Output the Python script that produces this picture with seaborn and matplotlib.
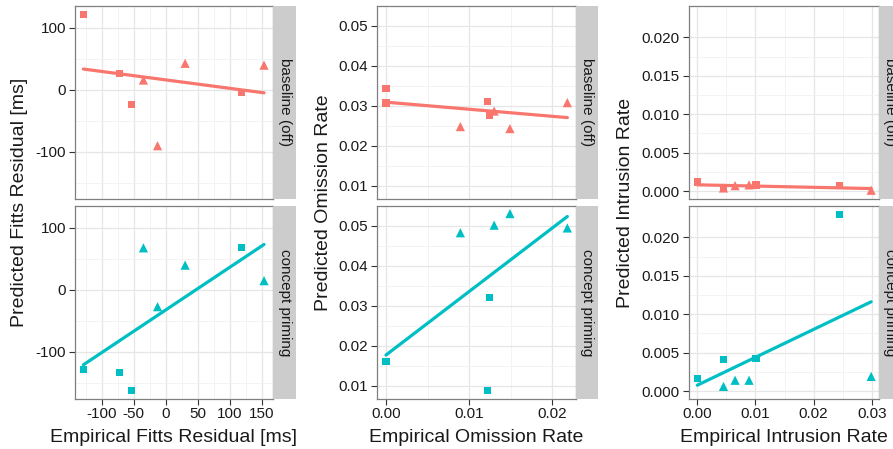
import matplotlib
matplotlib.use("Agg")
import matplotlib.pyplot as plt
import seaborn as sns
import pandas as pd
from matplotlib.ticker import FixedLocator

# ---------------- data ----------------
conditions = ["baseline (off)", "concept priming"]
cond_colors = ["#F8766D", "#00BFC4"]

fitts_x = [-128.7, -72.5, -53.7, -35.0, -13.0, 30.0, 118.0, 153.0]
fitts_shape = ["square", "square", "square", "triangle", "triangle", "triangle", "square", "triangle"]
fitts_base = [122, 26, -23, 16, -90, 43, -4, 40]
fitts_prime = [-128, -133, -162, 68, -27, 40, 69, 15]

om_x = [0.0, 0.0, 0.00894, 0.0122, 0.0124, 0.0130, 0.0149, 0.0218]
om_shape = ["square", "square", "triangle", "square", "square", "triangle", "triangle", "triangle"]
om_base = [0.0344, 0.0307, 0.0248, 0.0312, 0.0277, 0.0287, 0.0243, 0.0308]
om_prime = [0.0160, 0.0160, 0.0483, 0.0088, 0.0320, 0.0502, 0.0531, 0.0495]

in_x = [0.0, 0.00448, 0.0045, 0.0065, 0.0089, 0.0101, 0.0244, 0.0299]
in_shape = ["square", "square", "triangle", "triangle", "triangle", "square", "square", "triangle"]
in_base = [0.00117, 0.00035, 0.0004, 0.0007, 0.0008, 0.00078, 0.0007, 0.0001]
in_prime = [0.0016, 0.00413, 0.0006, 0.0014, 0.0014, 0.00425, 0.0230, 0.0019]

x_titles = ["Empirical Fitts Residual [ms]", "Empirical Omission Rate", "Empirical Intrusion Rate"]
y_titles = ["Predicted Fitts Residual [ms]", "Predicted Omission Rate", "Predicted Intrusion Rate"]

fitts_xticks = [-100, -50, 0, 50, 100, 150]
fitts_xlabels = ["-100", "-50", "0", "50", "100", "150"]
fitts_yticks = [-100, 0, 100]
fitts_ylabels = ["-100", "0", "100"]
om_xticks = [0.0, 0.01, 0.02]
om_xlabels = ["0.00", "0.01", "0.02"]
om_yticks = [0.01, 0.02, 0.03, 0.04, 0.05]
om_ylabels = ["0.01", "0.02", "0.03", "0.04", "0.05"]
in_xticks = [0.0, 0.01, 0.02, 0.03]
in_xlabels = ["0.00", "0.01", "0.02", "0.03"]
in_yticks = [0.0, 0.005, 0.010, 0.015, 0.020]
in_ylabels = ["0.000", "0.005", "0.010", "0.015", "0.020"]

# ---------------- style ----------------
sns.set_style("white")
plt.rcParams["font.family"] = ["Liberation Sans", "DejaVu Sans"]
plt.rcParams["axes.unicode_minus"] = False

W, H = 893, 449
fig = plt.figure(figsize=(W / 100, H / 100), dpi=100)


def box(l, t, r, b):
    return [l / W, 1 - b / H, (r - l) / W, (b - t) / H]


cols = [
    dict(x=fitts_x, shape=fitts_shape, ys=[fitts_base, fitts_prime],
         xt=fitts_xticks, xl=fitts_xlabels, yt=fitts_yticks, yl=fitts_ylabels,
         xminor=[-125, -75, -25, 25, 75, 125], yminor=[-150, -50, 50],
         xlim=(-141.7, 167.0), ylim=(-176.0, 135.5),
         left=75, right=273, strip_r=296, ylab_x=20),
    dict(x=om_x, shape=om_shape, ys=[om_base, om_prime],
         xt=om_xticks, xl=om_xlabels, yt=om_yticks, yl=om_ylabels,
         xminor=[0.005, 0.015], yminor=[0.015, 0.025, 0.035, 0.045],
         xlim=(-0.00108, 0.02284), ylim=(0.00667, 0.0550),
         left=377, right=576, strip_r=598, ylab_x=323),
    dict(x=in_x, shape=in_shape, ys=[in_base, in_prime],
         xt=in_xticks, xl=in_xlabels, yt=in_yticks, yl=in_ylabels,
         xminor=[0.005, 0.015, 0.025], yminor=[0.0025, 0.0075, 0.0125, 0.0175],
         xlim=(-0.00143, 0.03125), ylim=(-0.00104, 0.02408),
         left=689, right=879, strip_r=901, ylab_x=626),
]
rows = [(6, 199), (206, 399)]

for ci, c in enumerate(cols):
    for ri, (top, bot) in enumerate(rows):
        ax = fig.add_axes(box(c["left"], top, c["right"], bot))
        df = pd.DataFrame({"empirical": c["x"], "predicted": c["ys"][ri], "shape": c["shape"]})
        color = cond_colors[ri]
        sns.scatterplot(data=df, x="empirical", y="predicted", style="shape", size="shape",
                        markers={"square": "s", "triangle": "^"},
                        sizes={"square": 26, "triangle": 44},
                        color=color, linewidth=0, legend=False, ax=ax, zorder=3)
        sns.regplot(data=df, x="empirical", y="predicted", scatter=False, ci=None,
                    color=color, truncate=True, line_kws={"linewidth": 2.3, "zorder": 2},
                    ax=ax)
        ax.set_xlim(*c["xlim"])
        ax.set_ylim(*c["ylim"])
        ax.set_xlabel("")
        ax.set_ylabel("")
        ax.xaxis.set_major_locator(FixedLocator(c["xt"]))
        ax.yaxis.set_major_locator(FixedLocator(c["yt"]))
        ax.xaxis.set_minor_locator(FixedLocator(c["xminor"]))
        ax.yaxis.set_minor_locator(FixedLocator(c["yminor"]))
        ax.set_yticklabels(c["yl"])
        ax.grid(True, which="major", color="#E6E6E6", linewidth=0.9, zorder=0)
        ax.grid(True, which="minor", color="#F3F3F3", linewidth=0.7, zorder=0)
        ax.set_axisbelow(True)
        ax.tick_params(axis="y", which="major", left=True, length=4, width=0.8,
                       color="#333333", labelsize=11, labelcolor="#1A1A1A", pad=2.5)
        ax.tick_params(which="minor", length=0)
        if ri == 1:
            ax.set_xticklabels(c["xl"])
            ax.tick_params(axis="x", which="major", bottom=True, length=4, width=0.8,
                           color="#333333", labelsize=11, labelcolor="#1A1A1A", pad=2)
        else:
            ax.tick_params(axis="x", which="major", bottom=False, labelbottom=False)
        for sp in ax.spines.values():
            sp.set_color("#7F7F7F")
            sp.set_linewidth(0.9)
            sp.set_visible(True)
        # strip
        sax = fig.add_axes(box(c["right"], top, c["strip_r"], bot))
        sax.set_facecolor("#CCCCCC")
        sax.set_xticks([])
        sax.set_yticks([])
        for sp in sax.spines.values():
            sp.set_visible(False)
        sax.text(0.5, 0.5, conditions[ri], rotation=-90, ha="center", va="center",
                 fontsize=11, color="#1A1A1A", transform=sax.transAxes)
    # axis titles
    fig.text((c["left"] + c["right"]) / 2 / W, 1 - 437 / H, x_titles[ci],
             ha="center", va="center", fontsize=14, color="#1A1A1A")
    fig.text(c["ylab_x"] / W, 1 - ((rows[0][0] + rows[1][1]) / 2) / H, y_titles[ci],
             ha="center", va="center", rotation=90, fontsize=14, color="#1A1A1A")

fig.savefig("out.png", dpi=100)
